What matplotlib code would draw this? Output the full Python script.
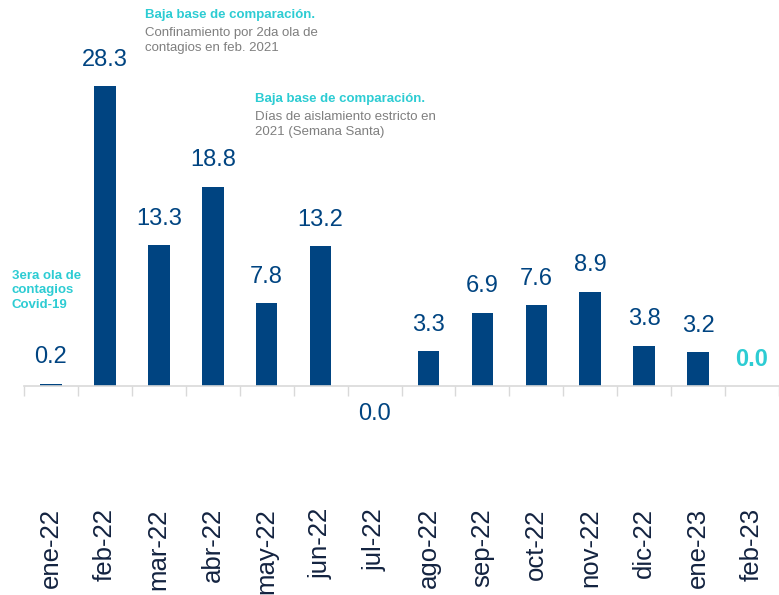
import numpy as np
import matplotlib.pyplot as plt

plt.rcParams['font.family'] = ['Liberation Sans', 'DejaVu Sans']

meses = ['ene-22', 'feb-22', 'mar-22', 'abr-22', 'may-22', 'jun-22', 'jul-22',
         'ago-22', 'sep-22', 'oct-22', 'nov-22', 'dic-22', 'ene-23', 'feb-23']
valores = [0.2, 28.3, 13.3, 18.8, 7.8, 13.2, 0.0, 3.3, 6.9, 7.6, 8.9, 3.8, 3.2, 0.0]

azul = '#004481'
cian = '#2dccd3'
gris = '#7f7f7f'
navy = '#132340'

fig = plt.figure(figsize=(7.79, 5.95), dpi=100)
ax = fig.add_axes([24/779, 209/595, 1 - 24/779, 371/595])

x = np.arange(len(meses))
colores = [azul] * (len(meses) - 1) + [cian]
ax.bar(x, valores, width=0.4, color=colores, linewidth=0)

# etiquetas de valores
for i, v in enumerate(valores):
    if i == 6:
        ax.annotate('%.1f' % v, (i, v), xytext=(0, -20), textcoords='offset points',
                    ha='center', va='center', fontsize=17, color=azul)
    elif i == len(meses) - 1:
        ax.annotate('%.1f' % v, (i, v), xytext=(0, 19), textcoords='offset points',
                    ha='center', va='center', fontsize=17, color=cian, fontweight='bold')
    else:
        ax.annotate('%.1f' % v, (i, v), xytext=(0, 19), textcoords='offset points',
                    ha='center', va='center', fontsize=17, color=azul)

ax.set_xlim(-0.5, len(meses) - 0.5)
ax.set_ylim(0, 35)

for s in ['top', 'right', 'left']:
    ax.spines[s].set_visible(False)
ax.spines['bottom'].set_color('#d9d9d9')
ax.spines['bottom'].set_linewidth(1.2)
ax.set_yticks([])

ax.set_xticks(x)
ax.set_xticklabels(meses, rotation=90, fontsize=18.5, color=navy)
ax.tick_params(axis='x', which='major', length=0, pad=88)
ax.set_xticks(np.arange(len(meses) + 1) - 0.5, minor=True)
ax.tick_params(axis='x', which='minor', length=7, color='#d9d9d9', width=1)

# notas
fig.text(145/779, 1 - 15/595, 'Baja base de comparación.', color=cian, fontsize=9.5,
         fontweight='bold', ha='left', va='center')
fig.text(145/779, 1 - 40.5/595, 'Confinamiento por 2da ola de\ncontagios en feb. 2021',
         color=gris, fontsize=9.5, ha='left', va='center', linespacing=1.3)
fig.text(255/779, 1 - 99/595, 'Baja base de comparación.', color=cian, fontsize=9.5,
         fontweight='bold', ha='left', va='center')
fig.text(255/779, 1 - 124.5/595, 'Días de aislamiento estricto en\n2021 (Semana Santa)',
         color=gris, fontsize=9.5, ha='left', va='center', linespacing=1.3)
fig.text(12/779, 1 - 290.5/595, '3era ola de\ncontagios\nCovid-19', color=cian, fontsize=9.5,
         fontweight='bold', ha='left', va='center', linespacing=1.3)

fig.savefig('out.png', dpi=100)
